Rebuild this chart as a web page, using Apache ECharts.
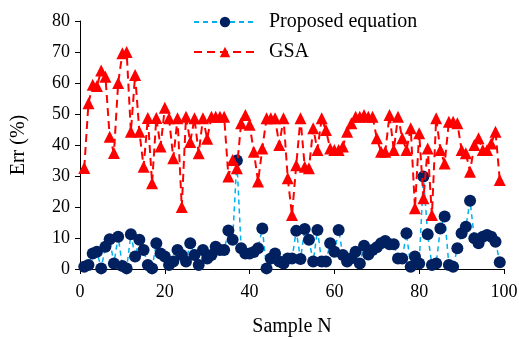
<!DOCTYPE html>
<html>
<head>
<meta charset="utf-8">
<script src="https://cdn.jsdelivr.net/npm/echarts@6/dist/echarts.min.js"></script>
<style>html,body{margin:0;padding:0;background:#fff;}#c{width:519px;height:339px;}</style>
</head>
<body>
<div id="c"></div>
<script>
var samples = [];
for (var i = 1; i <= 99; i++) samples.push(i);

var proposed = [
  0.7, 1.3, 5, 5.6, 0.2, 7.2, 9.6, 1.8, 10.4, 1,
  0.2, 11.2, 4, 9.4, 6.1, 1.3, 0.2, 8.3, 5, 4,
  1.3, 2.4, 6.1, 4.5, 2.4, 8.3, 4.5, 1.3, 6.1, 3.4,
  4.5, 7.2, 6.1, 6.1, 12.4, 9.4, 35, 6.7, 5, 5,
  5.5, 6.7, 13.1, 0.2, 3.4, 5, 2.4, 1.8, 3.4, 3.4,
  12.3, 3.2, 12.9, 9.4, 2.4, 12.6, 2.4, 2.4, 8.3, 5.6,
  12.6, 4.5, 2.4, 3.5, 5.6, 1.8, 7.5, 4.7, 6.1, 7,
  8.3, 9, 8, 8, 3.4, 3.4, 11.5, 0.7, 4, 1.8,
  29.8, 11.2, 1.3, 1.8, 13.1, 16.9, 1.3, 0.7, 6.7, 11.5,
  13.6, 22, 9.9, 8.3, 10.4, 11, 10.4, 8.8, 2.2
];

var gsa = [
  32.6, 53.5, 59.4, 59, 64, 62, 42.7, 37.4, 60, 69.6,
  70, 44.3, 62.6, 44.3, 33, 48.7, 27.7, 48.7, 39.5, 52,
  48.6, 35.7, 48.6, 20, 49.1, 41, 48.6, 37.3, 48.6, 42,
  49.1, 49.1, 49.1, 49.1, 29.8, 35.2, 32.5, 47, 49.7, 46.5,
  37.8, 28.2, 38.9, 48.6, 48.6, 48.6, 40, 48.6, 29.3, 17.4,
  33.5, 48.6, 33, 32.5, 45.4, 38.4, 48.6, 44.8, 38.9, 38.4,
  38.4, 39.5, 44.3, 47, 49.1, 49.1, 49.7, 49.1, 49.1, 42.2,
  37.8, 37.8, 49.7, 38.4, 49.1, 42.2, 38.4, 45.4, 19.6, 43.8,
  22.8, 38.9, 17.4, 48.6, 38.4, 34, 47.5, 47.5, 47, 38.4,
  37.3, 31.4, 40, 42.2, 38.4, 38.4, 40.5, 44.3, 28.7
];

var xTicks = [0, 20, 40, 60, 80, 100];
var yTicks = [0, 10, 20, 30, 40, 50, 60, 70, 80];

function pairs(xs, ys) { return xs.map(function (x, k) { return [x, ys[k]]; }); }

var font = '"Liberation Serif","Times New Roman",serif';
var chart = echarts.init(document.getElementById('c'), null, {renderer: 'canvas'});
chart.setOption({
  animation: false,
  backgroundColor: '#fff',
  grid: {left: 80, right: 15, top: 21, bottom: 70, containLabel: false, outerBoundsMode: 'none'},
  legend: {
    data: ['Proposed equation', 'GSA'],
    orient: 'vertical',
    left: 188, top: 7,
    itemWidth: 62, itemHeight: 13, itemGap: 10,
    textStyle: {fontFamily: font, fontSize: 20, color: '#000', padding: [0, 0, 0, 8]}
  },
  xAxis: {
    type: 'value', min: xTicks[0], max: xTicks[xTicks.length - 1], interval: 20,
    name: 'Sample N', nameLocation: 'middle', nameGap: 48,
    nameTextStyle: {fontFamily: font, fontSize: 20, color: '#000'},
    axisLine: {show: true, lineStyle: {color: '#000', width: 1}},
    axisTick: {show: true, inside: false, length: 5, lineStyle: {color: '#000'}},
    axisLabel: {fontFamily: font, fontSize: 18, color: '#000', margin: 14},
    splitLine: {show: false}
  },
  yAxis: {
    type: 'value', min: yTicks[0], max: yTicks[yTicks.length - 1], interval: 10,
    name: 'Err (%)', nameLocation: 'middle', nameGap: 51, nameRotate: 90,
    nameTextStyle: {fontFamily: font, fontSize: 20, color: '#000'},
    axisLine: {show: true, lineStyle: {color: '#000', width: 1}},
    axisTick: {show: true, inside: false, length: 5, lineStyle: {color: '#000'}},
    axisLabel: {fontFamily: font, fontSize: 18, color: '#000', margin: 10},
    splitLine: {show: false}
  },
  series: [
    {
      name: 'Proposed equation', type: 'line',
      data: pairs(samples, proposed),
      symbol: 'circle', symbolSize: 12,
      itemStyle: {color: '#002060', borderWidth: 0},
      lineStyle: {color: '#00B0F0', width: 1.5, type: [5, 4]},
      z: 2
    },
    {
      name: 'GSA', type: 'line',
      data: pairs(samples, gsa),
      symbol: 'triangle', symbolSize: 12,
      itemStyle: {color: '#FF0000', borderWidth: 0},
      lineStyle: {color: '#FF0000', width: 2, type: [8, 5]},
      z: 3
    }
  ]
});
</script>
</body>
</html>
